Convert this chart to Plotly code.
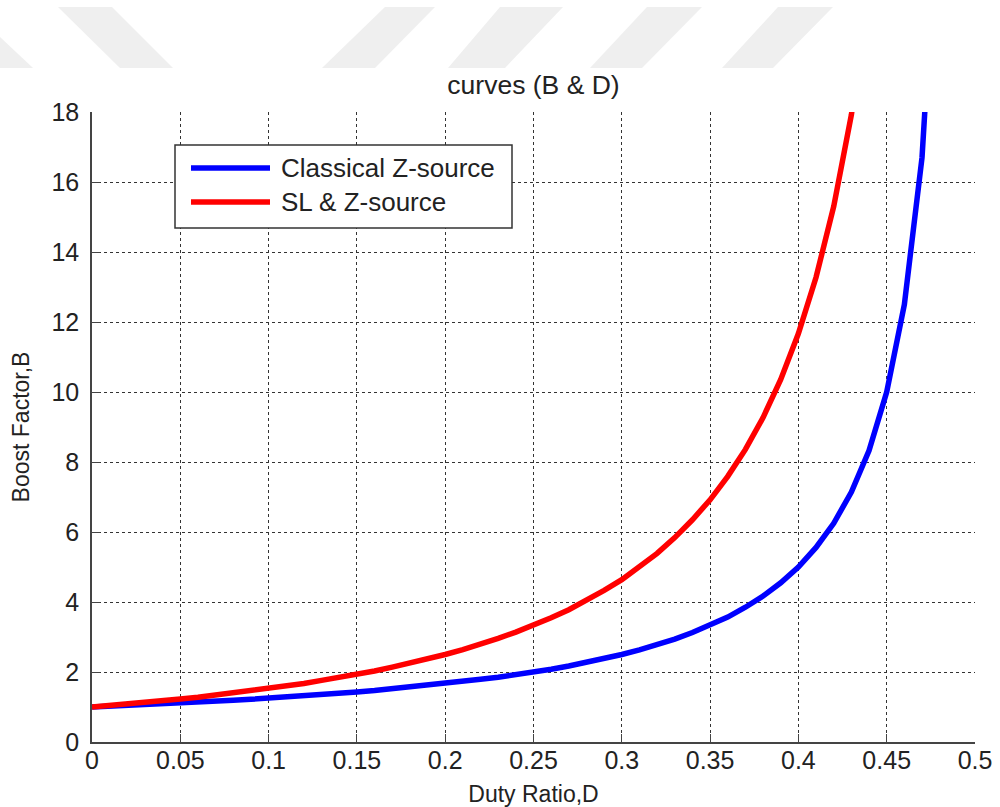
import plotly.graph_objects as go

# ---- data ----
duty_blue = [0.00, 0.01, 0.02, 0.03, 0.04, 0.05, 0.06, 0.07, 0.08, 0.09,
             0.10, 0.11, 0.12, 0.13, 0.14, 0.15, 0.16, 0.17, 0.18, 0.19,
             0.20, 0.21, 0.22, 0.23, 0.24, 0.25, 0.26, 0.27, 0.28, 0.29,
             0.30, 0.31, 0.32, 0.33, 0.34, 0.35, 0.36, 0.37, 0.38, 0.39,
             0.40, 0.41, 0.42, 0.43, 0.44, 0.45, 0.46, 0.47, 0.48]
boost_classical = [1.00, 1.02, 1.04, 1.06, 1.09, 1.11, 1.14, 1.16, 1.19, 1.22,
                   1.25, 1.28, 1.32, 1.35, 1.39, 1.43, 1.47, 1.52, 1.56, 1.61,
                   1.67, 1.72, 1.79, 1.85, 1.92, 2.00, 2.08, 2.17, 2.27, 2.38,
                   2.50, 2.63, 2.78, 2.94, 3.13, 3.33, 3.57, 3.85, 4.17, 4.55,
                   5.00, 5.56, 6.25, 7.14, 8.33, 10.0, 12.5, 16.7, 25.0]

duty_red = [0.00, 0.01, 0.02, 0.03, 0.04, 0.05, 0.06, 0.07, 0.08, 0.09,
            0.10, 0.11, 0.12, 0.13, 0.14, 0.15, 0.16, 0.17, 0.18, 0.19,
            0.20, 0.21, 0.22, 0.23, 0.24, 0.25, 0.26, 0.27, 0.28, 0.29,
            0.30, 0.31, 0.32, 0.33, 0.34, 0.35, 0.36, 0.37, 0.38, 0.39,
            0.40, 0.41, 0.42, 0.43, 0.44]
boost_sl = [1.00, 1.04, 1.08, 1.13, 1.18, 1.23, 1.28, 1.34, 1.40, 1.46,
            1.53, 1.60, 1.67, 1.76, 1.84, 1.93, 2.03, 2.14, 2.25, 2.37,
            2.50, 2.64, 2.79, 2.96, 3.14, 3.33, 3.55, 3.78, 4.04, 4.33,
            4.64, 5.00, 5.39, 5.84, 6.35, 6.92, 7.59, 8.36, 9.27, 10.36,
            11.67, 13.28, 15.30, 17.92, 21.43]

x_tickvals = [0, 0.05, 0.1, 0.15, 0.2, 0.25, 0.3, 0.35, 0.4, 0.45, 0.5]
x_ticktext = ["0", "0.05", "0.1", "0.15", "0.2", "0.25", "0.3", "0.35", "0.4", "0.45", "0.5"]
y_tickvals = [0, 2, 4, 6, 8, 10, 12, 14, 16, 18]
y_ticktext = ["0", "2", "4", "6", "8", "10", "12", "14", "16", "18"]

series_names = ["Classical Z-source", "SL & Z-source"]
series_colors = ["#0000ff", "#ff0000"]

# ---- layout geometry ----
W, H = 1000, 807
ML, MR, MT, MB = 92, 25, 112, 65
PW, PH = W - ML - MR, H - MT - MB
FONT = "Liberation Sans, Arial, sans-serif"
TXT = "#222222"


def px(xp):
    return (xp - ML) / PW


def py(yp):
    return (H - MB - yp) / PH


fig = go.Figure()
fig.add_trace(go.Scatter(x=duty_blue, y=boost_classical, mode="lines",
                         name=series_names[0], showlegend=False,
                         line=dict(color=series_colors[0], width=5.5)))
fig.add_trace(go.Scatter(x=duty_red, y=boost_sl, mode="lines",
                         name=series_names[1], showlegend=False,
                         line=dict(color=series_colors[1], width=5.5)))

shapes = []
# faint watermark stripes at the top of the page
stripes = [
    [(0, 37), (33, 68), (0, 68)],
    [(58, 7), (112, 7), (173, 68), (120, 68)],
    [(385, 7), (435, 7), (375, 68), (322, 68)],
    [(500, 7), (563, 7), (505, 68), (448, 68)],
    [(647, 7), (702, 7), (642, 68), (590, 68)],
    [(778, 7), (833, 7), (773, 68), (722, 68)],
]
for poly in stripes:
    path = "M " + " L ".join(f"{px(a):.5f},{py(b):.5f}" for a, b in poly) + " Z"
    shapes.append(dict(type="path", xref="paper", yref="paper", path=path,
                       fillcolor="#efefef", line=dict(width=0), layer="below"))

# legend box (MATLAB style)
shapes.append(dict(type="rect", xref="paper", yref="paper",
                   x0=px(175), x1=px(512), y0=py(228), y1=py(145),
                   fillcolor="white", line=dict(color="#333333", width=1.5), layer="above"))
annotations = []
for i, yy in enumerate([168, 202]):
    shapes.append(dict(type="line", xref="paper", yref="paper",
                       x0=px(191), x1=px(270), y0=py(yy), y1=py(yy),
                       line=dict(color=series_colors[i], width=5.5), layer="above"))
    annotations.append(dict(xref="paper", yref="paper", x=px(279), y=py(yy),
                            xanchor="left", yanchor="middle", showarrow=False,
                            text=series_names[i],
                            font=dict(family=FONT, size=26, color=TXT)))

axis_common = dict(
    showline=True, linecolor="#444444", linewidth=1.5,
    ticks="inside", ticklen=8, tickcolor="#444444", tickwidth=1.3,
    showgrid=True, gridcolor="#333333", gridwidth=1.3, griddash="dot",
    zeroline=False, mirror=False,
    tickfont=dict(family=FONT, size=25, color=TXT),
)

fig.update_layout(
    width=W, height=H,
    margin=dict(l=ML, r=MR, t=MT, b=MB, autoexpand=False),
    paper_bgcolor="white", plot_bgcolor="white",
    title=dict(text="curves (B &amp; D)", x=0.5, xref="paper",
               y=1 - 85 / H, yref="container", yanchor="middle", xanchor="center",
               font=dict(family=FONT, size=26.5, color=TXT)),
    xaxis=dict(range=[0, 0.5], tickvals=x_tickvals, ticktext=x_ticktext,
               title=dict(text="Duty Ratio,D", font=dict(family=FONT, size=23, color=TXT),
                          standoff=13),
               ticklabelstandoff=-5, **axis_common),
    yaxis=dict(range=[0, 18], tickvals=y_tickvals, ticktext=y_ticktext,
               title=dict(text="Boost Factor,B", font=dict(family=FONT, size=23, color=TXT),
                          standoff=15),
               ticklabelstandoff=6, **axis_common),
    shapes=shapes,
    annotations=annotations,
    showlegend=False,
)

fig.write_html("out.html")
